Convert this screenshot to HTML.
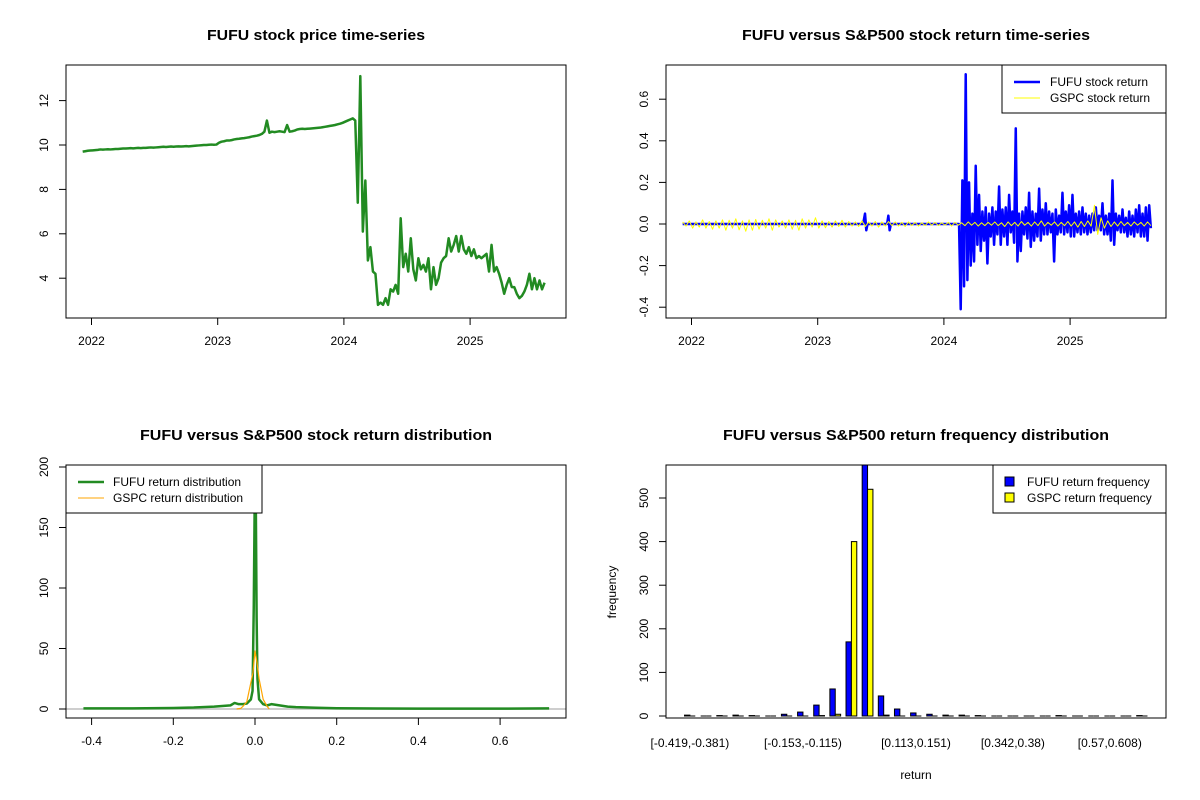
<!DOCTYPE html>
<html><head><meta charset="utf-8"><style>
html,body{margin:0;padding:0;background:#fff;}
svg{display:block;font-family:"Liberation Sans",Arial,sans-serif;}
</style></head><body>
<svg id="c" width="1200" height="800" viewBox="0 0 1200 800" xmlns="http://www.w3.org/2000/svg">
<defs>
<clipPath id="cTL"><rect x="66" y="65" width="500" height="253"/></clipPath>
<clipPath id="cTR"><rect x="666" y="65" width="500" height="253"/></clipPath>
<clipPath id="cBL"><rect x="66" y="465" width="500" height="253"/></clipPath>
<clipPath id="cBR"><rect x="666" y="465" width="500" height="253"/></clipPath>
</defs>
</svg>
<script>
// ---------- data ----------
const yearTicks = [2022, 2023, 2024, 2025];
const priceStart = 2021.93;
const priceStep = 0.02;
const priceValues = [9.70,9.72,9.74,9.75,9.76,9.77,9.78,9.80,9.79,9.80,9.81,9.80,9.81,9.82,9.82,9.83,9.84,9.84,9.85,9.86,9.85,9.86,9.87,9.86,9.87,9.87,9.88,9.89,9.88,
9.89,9.90,9.91,9.92,9.91,9.92,9.93,9.92,9.93,9.94,9.93,9.94,9.95,9.94,9.95,9.96,9.97,9.98,9.99,10.0,10.0,10.01,10.02,10.01,10.02,
10.1,10.15,10.17,10.2,10.2,10.22,10.25,10.27,10.28,10.3,10.31,10.33,10.35,10.38,10.4,10.42,10.45,10.5,10.6,11.1,10.55,10.6,10.58,10.6,10.62,
10.6,10.58,10.9,10.6,10.62,10.65,10.7,10.72,10.73,10.72,10.73,10.74,10.75,10.76,10.77,10.78,10.8,10.82,10.84,10.86,10.88,10.9,10.93,10.96,11.0,11.05,11.1,11.15,11.2,
11.1,7.4,13.1,6.1,8.4,4.8,5.4,4.3,4.2,2.8,2.9,2.8,3.1,2.8,3.5,3.4,3.7,3.3,6.7,4.5,5.1,4.3,5.8,4.4,3.9,4.9,4.4,4.6,4.3,4.9,3.5,4.5,3.7,4.0,4.7,4.9,5.0,5.8,5.2,5.5,5.9,5.2,5.9,5.3,5.1,5.4,5.0,5.3,4.9,5.0,4.9,5.0,5.1,4.3,5.5,4.3,4.5,4.2,3.8,3.3,3.7,4.0,3.6,3.6,3.3,3.1,3.2,3.4,3.7,4.2,3.5,4.0,3.5,3.9,3.5,3.8];
const priceTicks = [4, 6, 8, 10, 12];

const fufuPreDates = [2021.93,2023.36,2023.375,2023.385,2023.395,2023.55,2023.56,2023.57,2023.58,2024.11];
const fufuPreRet = [0,0,0.05,-0.03,0,0,0.04,-0.03,0,0];
const fufuPostStart = 2024.12;
const fufuPostEnd = 2025.64;
const fufuPostRet = [0,-0.41,0.21,-0.3,0.72,-0.27,0.2,-0.2,0.05,-0.18,0.28,-0.1,0.14,-0.13,0.06,-0.08,0.08,-0.19,0.05,-0.06,0.08,-0.1,0.06,-0.05,0.18,-0.1,0.07,-0.06,0.08,-0.1,0.14,-0.04,0.06,-0.09,0.46,-0.18,0.05,-0.13,0.06,-0.05,0.08,-0.07,0.15,-0.11,0.06,-0.08,0.05,-0.06,0.17,-0.08,0.07,-0.05,0.1,-0.05,0.06,-0.04,0.05,-0.18,0.07,-0.05,0.04,-0.04,0.15,-0.05,0.06,-0.04,0.09,-0.06,0.14,-0.06,0.05,-0.04,0.06,-0.05,0.08,-0.04,0.05,-0.05,0.04,-0.04,0.05,-0.03,0.08,-0.03,0.04,-0.03,0.1,-0.05,0.04,-0.05,0.05,-0.08,0.21,-0.1,0.05,-0.03,0.04,-0.04,0.07,-0.04,0.03,-0.06,0.06,-0.05,0.04,-0.06,0.07,-0.04,0.09,-0.06,0.05,-0.06,0.08,-0.08,0.09,-0.02];
const gspcStart = 2021.93;
const gspcEnd = 2025.64;
const gspcRet = [0.01,-0.01,0.015,-0.02,0.01,-0.015,0.02,-0.02,0.012,-0.025,0.015,-0.02,0.02,-0.03,0.018,-0.02,0.025,-0.028,0.015,-0.035,0.02,-0.03,0.022,-0.025,0.018,-0.02,0.025,-0.03,0.02,-0.015,0.015,-0.02,0.02,-0.025,0.018,-0.03,0.025,-0.02,0.02,-0.015,0.03,-0.02,0.015,-0.018,0.012,-0.015,0.015,-0.012,0.018,-0.015,0.012,-0.01,0.01,-0.012,0.015,-0.012,0.01,-0.01,0.012,-0.015,0.01,-0.01,0.012,-0.008,0.01,-0.01,0.008,-0.012,0.01,-0.008,0.008,-0.01,0.006,-0.008,0.01,-0.006,0.008,-0.008,0.006,-0.006,0.008,-0.01,0.008,-0.006,0.006,-0.008,0.01,-0.006,0.008,-0.01,0.006,-0.008,0.008,-0.006,0.01,-0.008,0.006,-0.012,0.01,-0.008,0.008,-0.01,0.012,-0.006,0.008,-0.01,0.01,-0.008,0.015,-0.01,0.008,-0.006,0.01,-0.01,0.008,-0.008,0.012,-0.01,0.01,-0.015,0.012,-0.012,0.015,-0.01,0.09,-0.05,0.03,-0.02,0.015,-0.012,0.01,-0.01,0.012,-0.008,0.008,-0.01,0.01,-0.006,0.008,-0.01,0.01,-0.008];
const retTicks = [-0.4, -0.2, 0, 0.2, 0.4, 0.6];

const densX = [-0.42,-0.3,-0.2,-0.15,-0.1,-0.08,-0.06,-0.05,-0.04,-0.03,-0.02,-0.01,-0.006,-0.003,0,0.002,0.004,0.006,0.01,0.02,0.03,0.04,0.06,0.08,0.1,0.15,0.2,0.3,0.4,0.6,0.72];
const densFufu = [0.5,0.5,0.8,1.2,2,2.5,3,5,4,4,4.5,8,15,85,200,170,75,25,8,4,3,4,3,2,1.5,1,0.6,0.4,0.3,0.3,0.5];
const densGspcX = [-0.045,-0.035,-0.03,-0.02,-0.01,-0.005,0,0.005,0.01,0.02,0.03,0.035];
const densGspc = [0,0.5,2,6,22,30,48,38,25,8,2,0];
const densXTicks = [-0.4,-0.2,0,0.2,0.4,0.6];
const densYTicks = [0,50,100,150,200];

const binLabels = ["[-0.419,-0.381)","[-0.381,-0.343)","[-0.343,-0.305)","[-0.305,-0.267)","[-0.267,-0.229)","[-0.229,-0.191)","[-0.191,-0.153)","[-0.153,-0.115)","[-0.115,-0.077)","[-0.077,-0.039)","[-0.039,-0.001)","[-0.001,0.037)","[0.037,0.075)","[0.075,0.113)","[0.113,0.151)","[0.151,0.189)","[0.189,0.227)","[0.227,0.265)","[0.265,0.303)","[0.303,0.342)","[0.342,0.38)","[0.38,0.418)","[0.418,0.456)","[0.456,0.494)","[0.494,0.532)","[0.532,0.57)","[0.57,0.608)","[0.608,0.646)","[0.646,0.684)"];
const shownBinLabels = [0, 7, 14, 20, 26];
const fufuFreq = [2,0,1,2,1,0,4,9,25,62,170,578,46,16,7,4,2,2,1,0,0,0,0,1,0,0,0,0,1];
const gspcFreq = [0,0,0,0,0,0,0,0,1,4,400,520,2,0,0,0,0,0,0,0,0,0,0,0,0,0,0,0,0];
const freqTicks = [0,100,200,300,400,500];

// ---------- helpers ----------
const svg = document.getElementById('c');
const NS = 'http://www.w3.org/2000/svg';
function mk(tag, attrs, parent) {
  const e = document.createElementNS(NS, tag);
  for (const k in attrs) e.setAttribute(k, attrs[k]);
  (parent || svg).appendChild(e);
  return e;
}
function txt(s, x, y, size, parent, extra) {
  const t = mk('text', Object.assign({x: x, y: y, 'font-size': size, 'text-anchor': 'middle', fill: '#000'}, extra || {}), parent);
  t.textContent = s;
  return t;
}
function polyline(xs, ys, color, w, clip, name) {
  let d = '';
  for (let i = 0; i < xs.length; i++) d += (i ? 'L' : 'M') + xs[i].toFixed(2) + ' ' + ys[i].toFixed(2);
  const p = mk('path', {d: d, fill: 'none', stroke: color, 'stroke-width': w, 'stroke-linejoin': 'round', 'clip-path': 'url(#' + clip + ')'});
  
  
  return p;
}
function box(x, y, w, h, name) {
  const r = mk('rect', {x: x, y: y, width: w, height: h, fill: 'none', stroke: '#000', 'stroke-width': 1});
  
  
}
function title(s, cx, y, len, name) {
  const t = txt(s, cx, y, 15, svg, {'font-weight': 'bold', textLength: len, lengthAdjust: 'spacingAndGlyphs'});
  
  
}
function xTicks(vals, fx, yb, labels, name) {
  const g = mk('g', {});
  
  
  vals.forEach((v, i) => {
    const x = fx(v);
    mk('line', {x1: x, x2: x, y1: yb, y2: yb + 7, stroke: '#000'}, g);
    txt(labels[i], x, yb + 27, 12, g);
  });
}
function yTicks(vals, fy, xl, labels, name) {
  const g = mk('g', {});
  
  
  vals.forEach((v, i) => {
    const y = fy(v);
    mk('line', {x1: xl - 7, x2: xl, y1: y, y2: y, stroke: '#000'}, g);
    txt(labels[i], xl - 18, y, 12, g, {transform: 'rotate(-90 ' + (xl - 18) + ' ' + y + ')'});
  });
}

// ---------- TL price ----------
const dateX = (d, off) => off + 91.5 + (d - 2022) * 126.2;
const pY = v => 145 - (v - 10) * 22.2;
title('FUFU stock price time-series', 316, 40, 218, 'price-chart-title');
{
  const xs = priceValues.map((v, i) => dateX(priceStart + i * priceStep, 0));
  const ys = priceValues.map(v => pY(v));
  polyline(xs, ys, '#228B22', 2.5, 'cTL', 'price-line');
}
box(66, 65, 500, 253, 'price-plot-box');
xTicks(yearTicks, d => dateX(d, 0), 318, yearTicks.map(String), 'price-x-axis');
yTicks(priceTicks, pY, 66, priceTicks.map(String), 'price-y-axis');

// ---------- TR returns ----------
const rY = v => 224 - v * 208;
title('FUFU versus S&P500 stock return time-series', 916, 40, 348, 'return-chart-title');
{
  const xs = [], ys = [];
  fufuPreDates.forEach((d, i) => { xs.push(dateX(d, 600)); ys.push(rY(fufuPreRet[i])); });
  const n = fufuPostRet.length;
  fufuPostRet.forEach((v, i) => { xs.push(dateX(fufuPostStart + i * (fufuPostEnd - fufuPostStart) / (n - 1), 600)); ys.push(rY(v)); });
  polyline(xs, ys, '#0000FF', 2.5, 'cTR', 'fufu-return-line');
  const m = gspcRet.length;
  const gx = gspcRet.map((v, i) => dateX(gspcStart + i * (gspcEnd - gspcStart) / (m - 1), 600));
  const gy = gspcRet.map(v => rY(v));
  polyline(gx, gy, '#FFFF00', 1, 'cTR', 'gspc-return-line');
}
box(666, 65, 500, 253, 'return-plot-box');
xTicks(yearTicks, d => dateX(d, 600), 318, yearTicks.map(String), 'return-x-axis');
yTicks(retTicks, rY, 666, retTicks.map(v => v.toFixed(1)), 'return-y-axis');
{
  const g = mk('g', {});
  
  
  mk('rect', {x: 1002, y: 65, width: 164, height: 48, fill: '#fff', stroke: '#000'}, g);
  mk('line', {x1: 1014, x2: 1040, y1: 82, y2: 82, stroke: '#0000FF', 'stroke-width': 2.5}, g);
  mk('line', {x1: 1014, x2: 1040, y1: 98, y2: 98, stroke: '#FFFF00', 'stroke-width': 1}, g);
  txt('FUFU stock return', 1050, 86, 12, g, {'text-anchor': 'start'});
  txt('GSPC stock return', 1050, 102, 12, g, {'text-anchor': 'start'});
}

// ---------- BL density ----------
const dX = v => 255 + v * 408.5;
const dY = v => 709 - v * 1.21;
title('FUFU versus S&P500 stock return distribution', 316, 440, 352, 'density-chart-title');
{
  const l = mk('line', {x1: 66, x2: 566, y1: dY(0), y2: dY(0), stroke: '#bebebe', 'stroke-width': 1.5});
  
  
  polyline(densX.map(dX), densFufu.map(dY), '#228B22', 2.5, 'cBL', 'fufu-density-line');
  polyline(densGspcX.map(dX), densGspc.map(dY), '#FFA500', 1.2, 'cBL', 'gspc-density-line');
}
box(66, 465, 500, 253, 'density-plot-box');
xTicks(densXTicks, dX, 718, densXTicks.map(v => v.toFixed(1)), 'density-x-axis');
yTicks(densYTicks, dY, 66, densYTicks.map(String), 'density-y-axis');
{
  const g = mk('g', {});
  
  
  mk('rect', {x: 66, y: 465, width: 196, height: 48, fill: '#fff', stroke: '#000'}, g);
  mk('line', {x1: 78, x2: 104, y1: 482, y2: 482, stroke: '#228B22', 'stroke-width': 2.5}, g);
  mk('line', {x1: 78, x2: 104, y1: 498, y2: 498, stroke: '#FFA500', 'stroke-width': 1}, g);
  txt('FUFU return distribution', 113, 486, 12, g, {'text-anchor': 'start'});
  txt('GSPC return distribution', 113, 502, 12, g, {'text-anchor': 'start'});
}

// ---------- BR histogram bars ----------
const bUnit = 500 / 92.88;
const bX = u => 666 + (u + 2.44) * bUnit;
const fY = v => 716 - v * 0.436;
title('FUFU versus S&P500 return frequency distribution', 916, 440, 386, 'frequency-chart-title');
function drawBar(g, x0, v, color, name) {
  let el;
  if (v > 0) {
    el = mk('rect', {x: x0, y: fY(v), width: bUnit, height: fY(0) - fY(v), fill: color, stroke: '#000', 'stroke-width': 1}, g);
  } else {
    el = mk('line', {x1: x0, x2: x0 + bUnit, y1: fY(0), y2: fY(0), stroke: '#000', 'stroke-width': 1}, g);
  }
  
  
}
{
  const g = mk('g', {'clip-path': 'url(#cBR)'});
  
  
  fufuFreq.forEach((v, i) => drawBar(g, bX(1 + 3 * i), v, '#0000FF', 'fufu-bar-' + i));
  gspcFreq.forEach((v, i) => drawBar(g, bX(2 + 3 * i), v, '#FFFF00', 'gspc-bar-' + i));
}
box(666, 465, 500, 253, 'frequency-plot-box');
{
  const g = mk('g', {});
  
  
  shownBinLabels.forEach(i => { txt(binLabels[i], bX(2 + 3 * i), 747, 12, g); });
}
yTicks(freqTicks, fY, 666, freqTicks.map(String), 'frequency-y-axis');
{
  const t = txt('return', 916, 779, 12);
  
  
  const t2 = txt('frequency', 616, 592, 12, svg, {transform: 'rotate(-90 616 592)'});
  
  
}
{
  const g = mk('g', {});
  
  
  mk('rect', {x: 993, y: 465, width: 173, height: 48, fill: '#fff', stroke: '#000'}, g);
  mk('rect', {x: 1005, y: 477, width: 9, height: 9, fill: '#0000FF', stroke: '#000'}, g);
  mk('rect', {x: 1005, y: 493, width: 9, height: 9, fill: '#FFFF00', stroke: '#000'}, g);
  txt('FUFU return frequency', 1027, 486, 12, g, {'text-anchor': 'start'});
  txt('GSPC return frequency', 1027, 502, 12, g, {'text-anchor': 'start'});
}
</script>
</body></html>
